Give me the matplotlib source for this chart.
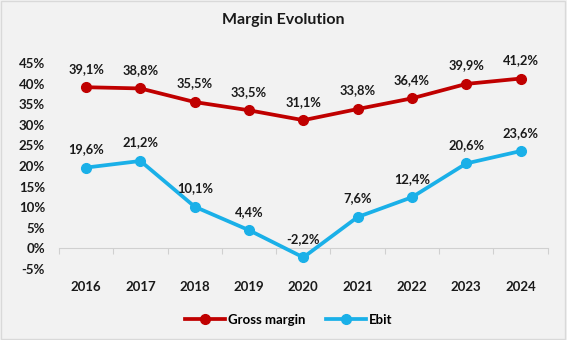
import numpy as np
import matplotlib.pyplot as plt
from matplotlib.patches import Rectangle
from matplotlib.ticker import FuncFormatter

# ---------------- data ----------------
years = ['2016', '2017', '2018', '2019', '2020', '2021', '2022', '2023', '2024']
gross_margin = [39.1, 38.8, 35.5, 33.5, 31.1, 33.8, 36.4, 39.9, 41.2]
ebit = [19.6, 21.2, 10.1, 4.4, -2.2, 7.6, 12.4, 20.6, 23.6]
y_ticks = [-5, 0, 5, 10, 15, 20, 25, 30, 35, 40, 45]

RED = '#C00000'
BLUE = '#1AB0E8'
BG = '#F2F2F2'

plt.rcParams['font.family'] = ['Lato', 'DejaVu Sans']
plt.rcParams['font.weight'] = 'bold'

fig = plt.figure(figsize=(5.67, 3.4), dpi=100, facecolor=BG)
ax = fig.add_axes([0.104, 0.209, 0.862, 0.606])
ax.set_facecolor(BG)

x = np.arange(len(years))
ax.plot(x, gross_margin, color=RED, lw=2.7, marker='o', ms=7, label='Gross margin')
ax.plot(x, ebit, color=BLUE, lw=2.7, marker='o', ms=7, label='Ebit')

# etiquetas de valor acima dos pontos
for serie in (gross_margin, ebit):
    for xi, v in zip(x, serie):
        ax.annotate(f'{v:.1f}%'.replace('.', ','), (xi, v), xytext=(0, 9),
                    textcoords='offset points', ha='center', va='bottom',
                    fontsize=9.3, fontweight='bold', color='#1a1a1a')

ax.set_xlim(-0.5, len(years) - 0.5)
ax.set_ylim(-5, 45)
ax.set_yticks(y_ticks)
ax.yaxis.set_major_formatter(FuncFormatter(lambda v, p: f'{v:.0f}%'))
ax.set_xticks(x)
ax.set_xticklabels(years)
ax.tick_params(axis='both', length=0, labelsize=9.5, colors='#1a1a1a')
ax.tick_params(axis='x', pad=9)
ax.tick_params(axis='y', pad=10)
for lab in ax.get_xticklabels() + ax.get_yticklabels():
    lab.set_fontweight('bold')
for s in ax.spines.values():
    s.set_visible(False)

# eixo em 0% com marcas entre categorias
sec = ax.secondary_xaxis(0.1)
sec.set_xticks(np.arange(len(years) + 1) - 0.5)
sec.set_xticklabels([])
sec.tick_params(length=4, color='#D0D0D0', width=0.8)
sec.spines['bottom'].set_color('#D0D0D0')
sec.spines['bottom'].set_linewidth(0.8)

fig.text(0.5, 0.94, 'Margin Evolution', ha='center', va='center',
         fontsize=11.5, fontweight='bold', color='#1a1a1a')

leg = ax.legend(loc='upper center', bbox_to_anchor=(0.47, -0.16), ncol=2,
                frameon=False, fontsize=9.5, handlelength=3.0, columnspacing=1.6,
                handletextpad=0.2)
for t in leg.get_texts():
    t.set_fontweight('bold')

fig.patches.append(Rectangle((0.002, 0.003), 0.995, 0.993, transform=fig.transFigure,
                             fill=False, edgecolor='#D9D9D9', lw=1))

fig.savefig('out.png', dpi=100, facecolor=BG)
